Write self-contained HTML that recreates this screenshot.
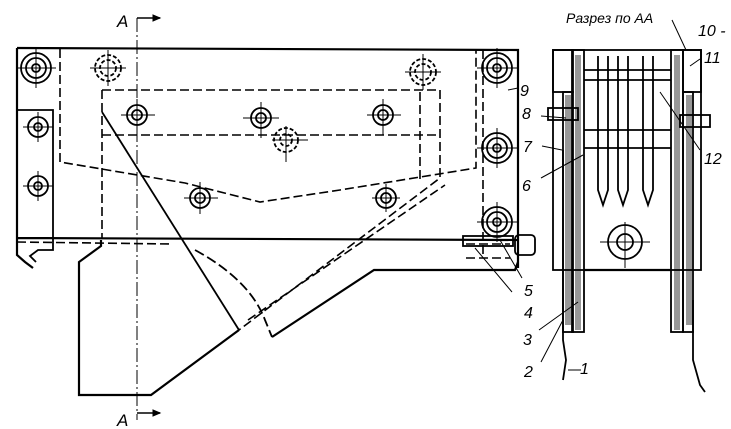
<!DOCTYPE html>
<html><head><meta charset="utf-8"><style>
html,body{margin:0;padding:0;background:#fff;}
svg{display:block}
text{font-family:"Liberation Sans",sans-serif;font-style:italic;fill:#000}
</style></head><body>
<svg width="731" height="429" viewBox="0 0 731 429" xmlns="http://www.w3.org/2000/svg">
<g fill="none" stroke="#000" stroke-width="2.2">
<path d="M17 48 L518 50 L518 268"/>
<path d="M17 48 L17 255 L25 262 L33 268 M17 238 L518 240"/>
<path d="M101 240 L101 246 L79 262 L79 395 L151 395 L239 330"/>
<path d="M272 337 L374 270 L515 270 L518 262"/>
<path d="M18 110 L53 110 L53 250 L38 250 L30 256 L36 262" stroke-width="1.8"/>
<path d="M102 112 L239 330" stroke-width="1.8"/>
<path d="M195 250 Q250 280 265 320 L272 337" stroke-width="1.8" stroke-dasharray="10 4"/>
</g>
<g fill="none" stroke="#000" stroke-width="1.6" stroke-dasharray="9 4">
<path d="M60 49 L60 162 L185 183 L260 202 L340 190 L476 168 L476 50"/>
<path d="M102 90 L440 90 L440 178 L239 330"/>
<path d="M102 90 L102 238 M102 135 L438 135 M420 92 L420 180"/>
<path d="M483 50 L483 258 M17 242 L170 244 M466 244 L510 244 M466 258 L510 258"/>
<path d="M248 320 L445 185"/>
</g>
<g stroke="#000" stroke-width="1" fill="none">
<path d="M137 18 L137 420" stroke-dasharray="14 3 2 3"/>
<path d="M137 18 L160 18 M137 413 L160 413" stroke-width="1.5"/>
<path d="M160 18 l-7 -3 v6 z M160 413 l-7 -3 v6 z" fill="#000"/>
</g>
<text x="117" y="27" font-size="17">A</text>
<text x="117" y="426" font-size="17">A</text>
<g fill="none" stroke="#000" stroke-width="1.8">
<g transform="translate(36,68)"><circle r="15"/><circle r="10"/><circle r="4"/><path d="M-20 0H20M0 -20V20" stroke-width="1"/></g>
<g transform="translate(108,68)" stroke-dasharray="4 2"><circle r="13"/><circle r="8"/><path d="M-18 0H18M0 -18V18" stroke-width="1" stroke-dasharray="none"/></g>
<g transform="translate(423,72)" stroke-dasharray="4 2"><circle r="13"/><circle r="8"/><path d="M-18 0H18M0 -18V18" stroke-width="1" stroke-dasharray="none"/></g>
<g transform="translate(497,68)"><circle r="15"/><circle r="10"/><circle r="4"/><path d="M-20 0H20M0 -20V20" stroke-width="1"/></g>
<g transform="translate(497,148)"><circle r="15"/><circle r="10"/><circle r="4"/><path d="M-20 0H20M0 -20V20" stroke-width="1"/></g>
<g transform="translate(497,222)"><circle r="15"/><circle r="10"/><circle r="4"/><path d="M-20 0H20M0 -20V20" stroke-width="1"/></g>
<g transform="translate(38,127)"><circle r="10"/><circle r="4"/><path d="M-15 0H15M0 -15V15" stroke-width="1"/></g>
<g transform="translate(38,186)"><circle r="10"/><circle r="4"/><path d="M-15 0H15M0 -15V15" stroke-width="1"/></g>
<g transform="translate(137,115)"><circle r="10"/><circle r="5"/><path d="M-16 0H18M0 -16V16" stroke-width="1"/></g>
<g transform="translate(261,118)"><circle r="10"/><circle r="5"/><path d="M-18 0H18M0 -16V20" stroke-width="1"/></g>
<g transform="translate(383,115)"><circle r="10"/><circle r="5"/><path d="M-16 0H18M0 -16V20" stroke-width="1"/></g>
<g transform="translate(286,140)" stroke-dasharray="4 2"><circle r="12"/><circle r="6"/><path d="M-14 0H22M0 -14V22" stroke-width="1" stroke-dasharray="none"/></g>
<g transform="translate(200,198)"><circle r="10"/><circle r="5"/><path d="M-16 0H18M0 -16V16" stroke-width="1"/></g>
<g transform="translate(386,198)"><circle r="10"/><circle r="5"/><path d="M-14 0H14M0 -14V14" stroke-width="1"/></g>
<rect x="463" y="236" width="50" height="10"/>
<rect x="515" y="235" width="20" height="20" rx="4"/>
</g>
<g stroke="#000" stroke-width="1">
<path d="M475 248 L512 292 M500 240 L522 278 M508 90 L518 88"/>
</g>
<g fill="none" stroke="#000" stroke-width="1.8">
<rect x="553" y="50" width="148" height="220"/>
<rect x="553" y="50" width="20" height="42"/>
<rect x="683" y="50" width="18" height="42"/>
<path d="M584 270 H670" stroke-width="2.2"/>
<rect x="563" y="92" width="10" height="240" />
<rect x="572" y="50" width="12" height="282"/>
<rect x="671" y="50" width="12" height="282"/>
<rect x="683" y="92" width="10" height="240"/>
<path d="M563 150 V340 L566 360 L563 380 M693 300 V360 L700 385 L705 392"/>
<path d="M598 56 V190 L603 205 L608 190 V56 M618 56 V190 L623 205 L628 190 V56 M643 56 V190 L648 205 L653 190 V56"/>
<path d="M584 70 H671 M584 80 H671 M584 130 H671 M584 148 H671"/>
<circle cx="625" cy="242" r="17"/><circle cx="625" cy="242" r="8"/>
<path d="M600 242H650M625 222V268" stroke-width="1"/>
<rect x="548" y="108" width="30" height="12"/>
<rect x="680" y="115" width="30" height="12"/>
</g>
<g fill="#000" opacity="0.4">
<rect x="565" y="95" width="6" height="230"/>
<rect x="686" y="95" width="6" height="230"/>
<rect x="575" y="55" width="6" height="275"/>
<rect x="674" y="55" width="6" height="275"/>
</g>
<g stroke="#000" stroke-width="1">
<path d="M541 116 L566 118 M542 146 L562 150 M541 178 L583 155 M539 330 L578 302 M541 362 L563 320 M581 370 L568 370 M672 20 L686 50 M700 59 L690 66 M700 150 L660 92"/>
</g>
<text x="566" y="23" font-size="14">Разрез по АА</text>
<g font-size="16">
<text x="520" y="96">9</text>
<text x="522" y="119">8</text>
<text x="523" y="152">7</text>
<text x="522" y="191">6</text>
<text x="524" y="296">5</text>
<text x="524" y="318">4</text>
<text x="523" y="345">3</text>
<text x="524" y="377">2</text>
<text x="580" y="374">1</text>
<text x="698" y="36">10 -</text>
<text x="704" y="63">11</text>
<text x="704" y="164">12</text>
</g>
</svg>
</body></html>
